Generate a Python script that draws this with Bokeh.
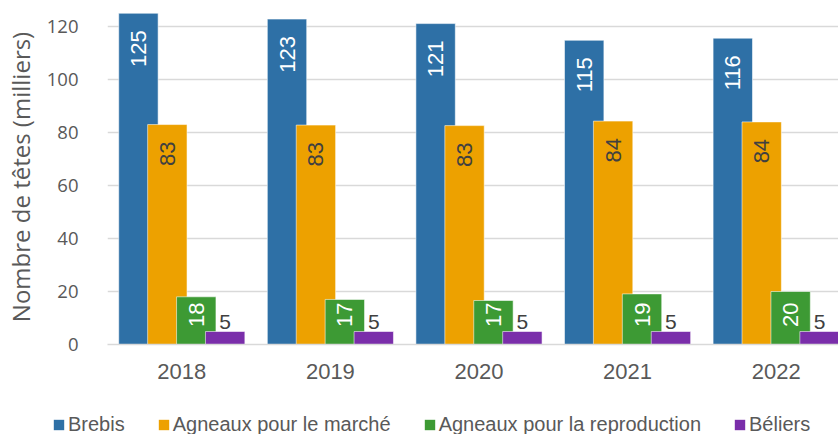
import numpy as np
from bokeh.plotting import figure
from bokeh.models import (ColumnDataSource, Range1d, FixedTicker, Legend, LegendItem)
from bokeh.transform import dodge
from bokeh.core.properties import value
from bokeh.embed import file_html
from bokeh.resources import INLINE

# ---- data ----
years = [2018, 2019, 2020, 2021, 2022]
brebis = [125.0, 122.8, 121.1, 114.8, 115.6]
agneaux_marche = [83.0, 82.8, 82.6, 84.3, 84.0]
agneaux_repro = [18.0, 17.0, 16.6, 19.1, 20.0]
beliers = [4.9, 4.9, 4.9, 4.9, 4.9]
series_names = ["Brebis", "Agneaux pour le marché",
                "Agneaux pour la reproduction", "Béliers"]
y_ticks = [0, 20, 40, 60, 80, 100, 120]

colors = ["#2E70A6", "#EDA100", "#3D9A34", "#7A2EAA"]
label_colors = ["white", "#404040", "white", "#404040"]

px_per_year = 149.0
px_per_unit = 2.65
offsets_px = [-43.5, -14.5, 14.5, 43.5]
bar_w = 39.5 / px_per_year

p = figure(width=838, height=398, output_backend="svg", toolbar_location=None,
           x_range=Range1d(2017.5, 2017.5 + 733 / px_per_year),
           y_range=Range1d(0, 335 / px_per_unit),
           min_border_left=105, min_border_right=0, min_border_top=9,
           min_border_bottom=54)
p.outline_line_color = None
p.background_fill_color = "white"
p.border_fill_color = "white"

src = ColumnDataSource(dict(year=years, s0=brebis, s1=agneaux_marche,
                            s2=agneaux_repro, s3=beliers))

series = [brebis, agneaux_marche, agneaux_repro, beliers]
for i, vals in enumerate(series):
    off = offsets_px[i] / px_per_year
    p.vbar(x=dodge("year", off, range=p.x_range), top="s%d" % i, width=bar_w,
           source=src, fill_color=colors[i], line_color="white",
           line_alpha=0.55, line_width=1)

# rotated labels inside bars (first three series)
for i in range(3):
    vals = np.array(series[i], dtype=float)
    lab_y = np.maximum(vals - 17 / px_per_unit, 42 / px_per_unit)
    lsrc = ColumnDataSource(dict(x=np.array(years) + offsets_px[i] / px_per_year,
                                 y=lab_y,
                                 t=[str(int(round(v))) for v in vals]))
    p.text(x="x", y="y", text="t", source=lsrc, angle=np.pi / 2,
           text_align="right", text_baseline="middle",
           text_font=value("Liberation Sans"), text_font_size="22px",
           text_color=label_colors[i])

# horizontal labels above small bars (Béliers)
vals = np.array(beliers, dtype=float)
bsrc = ColumnDataSource(dict(x=np.array(years) + offsets_px[3] / px_per_year,
                             y=vals + 10 / px_per_unit,
                             t=[str(int(round(v))) for v in vals]))
p.text(x="x", y="y", text="t", source=bsrc,
       text_align="center", text_baseline="middle",
       text_font=value("Liberation Sans"), text_font_size="21px",
       text_color="#404040")

# axes
p.xgrid.grid_line_color = None
p.ygrid.grid_line_color = "#d9d9d9"
p.ygrid.grid_line_width = 1.3
p.yaxis.ticker = FixedTicker(ticks=y_ticks)
p.xaxis.ticker = FixedTicker(ticks=years)

p.yaxis.axis_line_color = None
p.yaxis.major_tick_line_color = None
p.yaxis.minor_tick_line_color = None
p.yaxis.major_label_standoff = 23
p.yaxis.major_label_text_font = "Open Sans"
p.yaxis.major_label_text_font_size = "18.5px"
p.yaxis.major_label_text_color = "#595959"
p.yaxis.axis_label = "Nombre de têtes (milliers)"
p.yaxis.axis_label_text_font = "Open Sans"
p.yaxis.axis_label_text_font_size = "24px"
p.yaxis.axis_label_text_font_style = "normal"
p.yaxis.axis_label_text_color = "#595959"
p.yaxis.axis_label_standoff = 7

p.xaxis.axis_line_color = "#d9d9d9"
p.xaxis.axis_line_width = 1.5
p.xaxis.major_tick_line_color = None
p.xaxis.minor_tick_line_color = None
p.xaxis.major_label_standoff = 13
p.xaxis.major_label_text_font = "Liberation Sans"
p.xaxis.major_label_text_font_size = "22px"
p.xaxis.major_label_text_color = "#595959"

# ---- legend strip (separate small figure) ----
p2 = figure(width=838, height=36, output_backend="svg", toolbar_location=None,
            x_range=Range1d(0, 1), y_range=Range1d(1000, 1001),
            x_axis_type=None, y_axis_type=None,
            min_border_left=0, min_border_right=0, min_border_top=0,
            min_border_bottom=0)
p2.outline_line_color = None
p2.xgrid.grid_line_color = None
p2.ygrid.grid_line_color = None
leg_renderers = []
for i in range(4):
    r = p2.vbar(x=0.5, top="s%d" % i, width=0.1, source=src,
                fill_color=colors[i], line_color=None)
    leg_renderers.append(r)

items = [LegendItem(label=series_names[i], renderers=[leg_renderers[i]]) for i in range(4)]
legend = Legend(items=items, orientation="horizontal", location=(52, -2))
legend.background_fill_alpha = 0
legend.border_line_alpha = 0
legend.padding = 0
legend.margin = 0
legend.spacing = 32
legend.glyph_width = 13
legend.glyph_height = 13
legend.label_standoff = 3
legend.label_text_font = "Liberation Sans"
legend.label_text_font_size = "20px"
legend.label_text_color = "#595959"
p2.add_layout(legend)

open("out.html", "w").write(file_html([p, p2], INLINE))
